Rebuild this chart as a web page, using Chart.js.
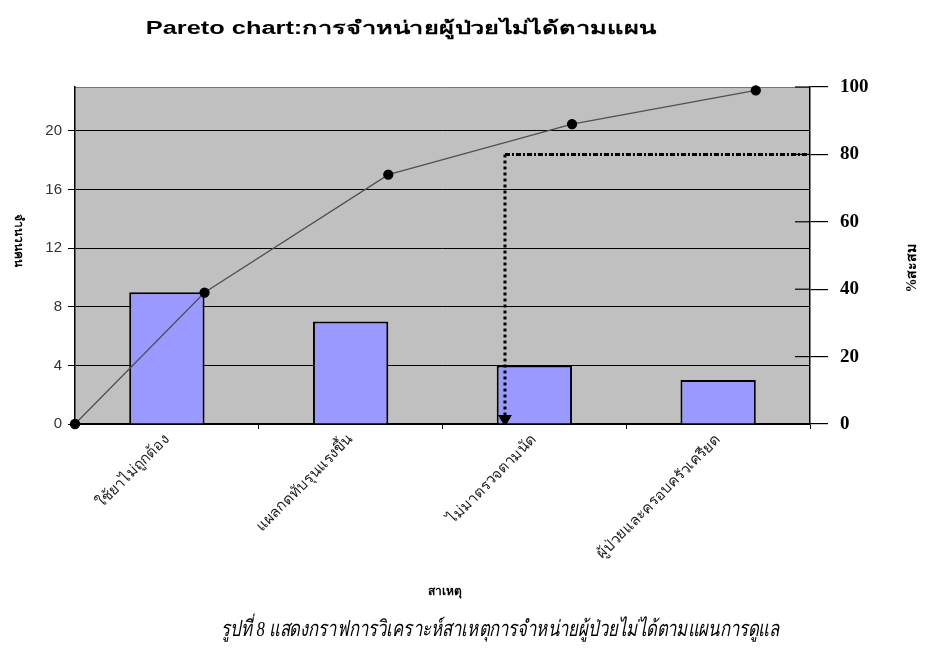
<!DOCTYPE html>
<html>
<head>
<meta charset="utf-8">
<script src="https://cdn.jsdelivr.net/npm/chart.js@4.4.1/dist/chart.umd.min.js"></script>
<style>
  html, body { margin: 0; padding: 0; background: #fff; }
  #wrap { width: 931px; height: 661px; }
</style>
</head>
<body>
<div id="wrap"><canvas id="pareto" width="931" height="661"></canvas></div>
<script>
// data
const categories = ["ใช้ยาไม่ถูกต้อง", "แผลกดทับรุนแรงขึ้น", "ไม่มาตรวจตามนัด", "ผู้ป่วยและครอบครัวเครียด"];
const counts = [9, 7, 4, 3];
const cumulativePct = [0, 39, 74, 89, 99];
const leftTicks = [0, 4, 8, 12, 16, 20];
const rightTicks = [0, 20, 40, 60, 80, 100];
const cutoffPct = 80;
const cutoffPos = 2.34; // where the dotted 80% guide drops down (category units)

const titleText = "Pareto chart:การจำหน่ายผู้ป่วยไม่ได้ตามแผน";
const yTitle = "จำนวนคน";
const y1Title = "%สะสม";
const xTitle = "สาเหตุ";
const caption = "รูปที่ 8 แสดงกราฟการวิเคราะห์สาเหตุการจำหน่ายผู้ป่วยไม่ได้ตามแผนการดูแล";

const BAR_PCT = 0.41;
// cumulative points sit on the right edge of each bar
const lineX = [0].concat(counts.map((c, i) => i + 0.5 + BAR_PCT / 2));

const textPlugin = {
  id: "texts",
  beforeDraw(chart) {
    const { ctx, chartArea: a } = chart;
    ctx.save();
    ctx.fillStyle = "#c0c0c0";
    ctx.fillRect(a.left, a.top, a.right - a.left, a.bottom - a.top);
    ctx.strokeStyle = "#777";
    ctx.lineWidth = 1;
    ctx.beginPath();
    ctx.moveTo(a.left, a.top + 0.5);
    ctx.lineTo(a.right, a.top + 0.5);
    ctx.stroke();
    ctx.restore();
  },
  afterDraw(chart) {
    const { ctx, chartArea: a } = chart;
    const y1 = chart.scales.y1;
    ctx.save();
    // inner half of the crossing ticks on the right axis
    ctx.strokeStyle = "#000";
    ctx.lineWidth = 1.2;
    y1.ticks.forEach((t) => {
      const py = y1.getPixelForValue(t.value);
      ctx.beginPath();
      ctx.moveTo(a.right - 15, py);
      ctx.lineTo(a.right, py);
      ctx.stroke();
    });

    ctx.fillStyle = "#000";
    ctx.textAlign = "center";
    ctx.textBaseline = "middle";

    ctx.save();
    ctx.font = "bold 18px 'Liberation Sans', Arial, sans-serif";
    ctx.translate(401, 29);
    ctx.scale(1.41, 1);
    ctx.fillText(titleText, 0, 0);
    ctx.restore();

    ctx.font = "bold 12px 'Liberation Sans', Arial, sans-serif";
    ctx.fillText(xTitle, 445, 592);

    ctx.save();
    ctx.translate(18, 240);
    ctx.rotate(Math.PI / 2);
    ctx.fillText(yTitle, 0, 0);
    ctx.restore();

    ctx.save();
    ctx.font = "bold 14px 'Liberation Serif', serif";
    ctx.translate(912, 268);
    ctx.rotate(-Math.PI / 2);
    ctx.fillText(y1Title, 0, 0);
    ctx.restore();

    ctx.save();
    ctx.font = "italic 22px 'Liberation Serif', serif";
    ctx.translate(500, 630);
    ctx.scale(0.76, 1);
    ctx.fillText(caption, 0, 0);
    ctx.restore();
    ctx.restore();
  }
};

new Chart(document.getElementById("pareto"), {
  data: {
    labels: categories,
    datasets: [
      {
        type: "bar",
        label: "จำนวนคน",
        data: counts,
        backgroundColor: "#9999ff",
        borderColor: "#000",
        borderWidth: 2,
        grouped: false,
        barPercentage: BAR_PCT,
        categoryPercentage: 1,
        xAxisID: "x",
        yAxisID: "y",
        order: 3,
      },
      {
        type: "line",
        label: "%สะสม",
        data: lineX.map((x, i) => ({ x: x, y: cumulativePct[i] })),
        borderColor: "#505050",
        borderWidth: 1.3,
        pointRadius: 4.5,
        pointBackgroundColor: "#000",
        pointBorderColor: "#000",
        clip: false,
        xAxisID: "x2",
        yAxisID: "y1",
        order: 1,
      },
      {
        type: "line",
        label: "80% across",
        data: [{ x: cutoffPos, y: cutoffPct }, { x: categories.length, y: cutoffPct }],
        borderColor: "#000",
        borderWidth: 3,
        borderDash: [5, 2, 2, 2],
        pointRadius: 0,
        xAxisID: "x2",
        yAxisID: "y1",
        order: 2,
      },
      {
        type: "line",
        label: "80% down",
        data: [{ x: cutoffPos, y: cutoffPct }, { x: cutoffPos, y: 1.5 }],
        borderColor: "#000",
        borderWidth: 3,
        borderDash: [3, 3],
        pointRadius: [0, 5],
        pointStyle: "triangle",
        rotation: 180,
        pointBackgroundColor: "#000",
        pointBorderColor: "#000",
        xAxisID: "x2",
        yAxisID: "y1",
        order: 2,
      },
    ],
  },
  options: {
    responsive: false,
    animation: false,
    layout: { padding: { top: 87, left: 0, right: 0, bottom: 0 } },
    plugins: {
      legend: { display: false },
      tooltip: { enabled: false },
      title: { display: false },
    },
    scales: {
      x: {
        type: "category",
        offset: true,
        grid: { offset: true, drawOnChartArea: false, tickLength: 5, tickColor: "#000" },
        border: { color: "#000", width: 1.5 },
        ticks: {
          minRotation: 45,
          maxRotation: 45,
          padding: 2,
          color: "#222",
          font: { family: "'Liberation Sans', Arial, sans-serif", size: 15 },
        },
        afterFit(scale) { scale.height = 237; },
      },
      x2: {
        type: "linear",
        min: 0,
        max: categories.length,
        display: false,
      },
      y: {
        position: "left",
        min: 0,
        max: 23,
        ticks: {
          stepSize: 4,
          includeBounds: false,
          padding: 6,
          color: "#333",
          font: { family: "'Liberation Sans', Arial, sans-serif", size: 15 },
          callback: (v) => (leftTicks.includes(v) ? v : ""),
        },
        grid: { color: "#000", lineWidth: 1, tickLength: 7, tickColor: "#000" },
        border: { color: "#000", width: 1.5 },
        afterFit(scale) { scale.width = 75; },
      },
      y1: {
        position: "right",
        min: 0,
        max: 100,
        ticks: {
          stepSize: 20,
          padding: 12,
          color: "#000",
          font: { family: "'Liberation Serif', serif", size: 19, weight: "bold" },
          callback: (v) => (rightTicks.includes(v) ? v : ""),
        },
        grid: { drawOnChartArea: false, tickLength: 18, tickColor: "#000", lineWidth: 1.2 },
        border: { color: "#000", width: 1.5 },
        afterFit(scale) { scale.width = 121; },
      },
    },
  },
  plugins: [textPlugin],
});
</script>
</body>
</html>
